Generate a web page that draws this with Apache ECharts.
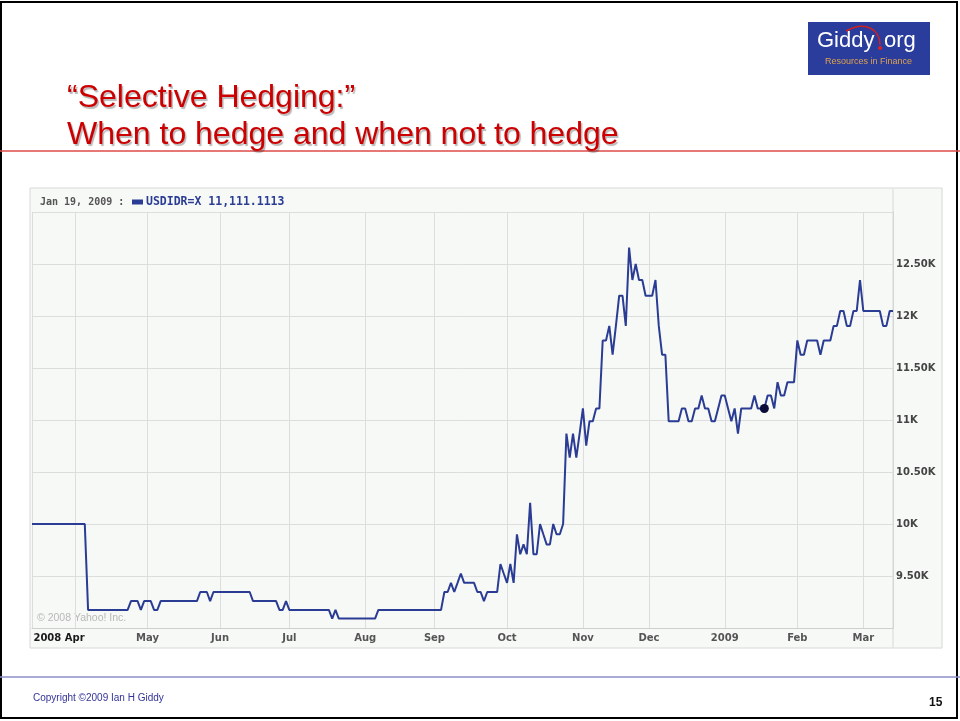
<!DOCTYPE html>
<html>
<head>
<meta charset="utf-8">
<script src="https://cdn.jsdelivr.net/npm/echarts@6/dist/echarts.min.js"></script>
<style>
html,body{margin:0;padding:0;background:#fff;}
#chart{width:960px;height:721px;}
</style>
</head>
<body>
<div id="chart"></div>
<script>
// ---------- data ----------
const slideTitle = '\u201cSelective Hedging:\u201d\nWhen to hedge and when not to hedge';
const seriesName = 'USDIDR=X';
const startDate = [2008, 2, 13];   // 2008-03-13 (weekdays only)
const endDate = [2009, 2, 13];     // 2009-03-13
const highlightDate = '2009-01-19';
const highlightValue = 11111.1113;
const highlightLabel = 'Jan 19, 2009 :';
const highlightValueText = '11,111.1113';
const monthLabels = ['2008 Apr','May','Jun','Jul','Aug','Sep','Oct','Nov','Dec','2009','Feb','Mar'];
const yTickLabels = {9500:'9.50K',10000:'10K',10500:'10.50K',11000:'11K',11500:'11.50K',12000:'12K',12500:'12.50K'};
const rateValues = [
10000,10000,10000,10000,10000,10000,10000,10000,10000,10000,
10000,10000,10000,10000,10000,10000,10000,9174,9174,9174,
9174,9174,9174,9174,9174,9174,9174,9174,9174,9174,
9259,9259,9259,9174,9259,9259,9259,9174,9174,9259,
9259,9259,9259,9259,9259,9259,9259,9259,9259,9259,
9259,9346,9346,9346,9259,9346,9346,9346,9346,9346,
9346,9346,9346,9346,9346,9346,9346,9259,9259,9259,
9259,9259,9259,9259,9259,9174,9174,9259,9174,9174,
9174,9174,9174,9174,9174,9174,9174,9174,9174,9174,
9174,9091,9174,9091,9091,9091,9091,9091,9091,9091,
9091,9091,9091,9091,9091,9174,9174,9174,9174,9174,
9174,9174,9174,9174,9174,9174,9174,9174,9174,9174,
9174,9174,9174,9174,9174,9346,9346,9434,9346,9434,
9524,9434,9434,9434,9434,9346,9346,9259,9346,9346,
9346,9346,9615,9524,9434,9615,9434,9901,9709,9804,
9709,10204,9709,9709,10000,9901,9804,9804,10000,9901,
9901,10000,10870,10638,10870,10638,10870,11111,10753,10989,
10989,11111,11111,11765,11765,11905,11628,11905,12195,12195,
11905,12658,12346,12500,12346,12346,12195,12195,12195,12346,
11905,11628,11628,10989,10989,10989,10989,11111,11111,10989,
10989,11111,11111,11236,11111,11111,10989,10989,11111,11236,
11236,11111,10989,11111,10870,11111,11111,11111,11111,11236,
11111,11111,11111,11236,11236,11111,11364,11236,11236,11364,
11364,11364,11765,11628,11628,11765,11765,11765,11765,11628,
11765,11765,11765,11905,11905,12048,12048,11905,11905,12048,
12048,12346,12048,12048,12048,12048,12048,12048,11905,11905,
12048,12048
];

// ---------- categories (trading weekdays) ----------
const categories = [];
for (let t = Date.UTC(startDate[0], startDate[1], startDate[2]); t <= Date.UTC(endDate[0], endDate[1], endDate[2]); t += 86400000) {
  const d = new Date(t);
  const w = d.getUTCDay();
  if (w !== 0 && w !== 6) categories.push(d.toISOString().slice(0, 10));
}
const monthStarts = [];
for (let i = 1; i < categories.length; i++) {
  if (categories[i].slice(5, 7) !== categories[i - 1].slice(5, 7)) monthStarts.push(i);
}
const labelAt = {};
labelAt[0] = monthLabels[0];
for (let k = 1; k < monthStarts.length && k < monthLabels.length; k++) labelAt[monthStarts[k]] = monthLabels[k];
const gridIdx = new Set([0].concat(monthStarts));

const AX = 'DejaVu Sans';
const chart = echarts.init(document.getElementById('chart'), null, {renderer: 'canvas'});
chart.setOption({
  animation: false,
  backgroundColor: '#ffffff',
  title: {
    text: slideTitle,
    left: 67, top: 80, padding: 0,
    textStyle: {
      fontFamily: 'Liberation Sans', fontSize: 32, fontWeight: 'normal', color: '#cc0000',
      lineHeight: 37, textShadowColor: 'rgba(0,0,0,0.28)', textShadowOffsetX: 1.5, textShadowOffsetY: 1.5, textShadowBlur: 1
    }
  },
  legend: {
    left: 132, top: 196, padding: 0,
    icon: 'rect', itemWidth: 11, itemHeight: 5,
    data: [seriesName],
    selectedMode: false,
    formatter: function (n) { return n + ' ' + highlightValueText; },
    textStyle: {fontFamily: 'DejaVu Sans Mono', fontWeight: 'bold', fontSize: 11.5, color: '#2b3c94', padding: [0, 0, 0, -2]}
  },
  grid: {left: 32, top: 212, width: 861, height: 416, containLabel: false},
  xAxis: {
    type: 'category',
    data: categories,
    boundaryGap: false,
    axisLine: {show: true, lineStyle: {color: '#cfcfcf', width: 1}},
    axisTick: {show: false},
    splitLine: {show: true, interval: function (i) { return gridIdx.has(i); }, lineStyle: {color: '#dddddd', width: 1}},
    axisLabel: {
      interval: function (i) { return labelAt[i] !== undefined; },
      margin: 5,
      fontFamily: AX, fontWeight: 'bold', fontSize: 10, color: '#555555',
      formatter: function (v, i) {
        if (i === 0) return '{first|' + labelAt[0] + '}';
        return labelAt[i] !== undefined ? labelAt[i] : '';
      },
      rich: {first: {fontFamily: AX, fontWeight: 'bold', fontSize: 10, color: '#1a1a1a', padding: [0, 0, 0, 54]}}
    }
  },
  yAxis: {
    type: 'value',
    position: 'right',
    min: 9000, max: 13000, interval: 500,
    axisLine: {show: true, lineStyle: {color: '#d5d5d5'}},
    axisTick: {show: false},
    splitLine: {show: true, lineStyle: {color: '#dddddd', width: 1}},
    axisLabel: {
      margin: 3, showMinLabel: false, showMaxLabel: false,
      fontFamily: AX, fontWeight: 'bold', fontSize: 10, color: '#444444',
      formatter: function (v) { return yTickLabels[v] || ''; }
    }
  },
  series: [{
    name: seriesName,
    type: 'line',
    data: rateValues,
    showSymbol: false,
    symbol: 'none',
    lineStyle: {color: '#2b3c94', width: 2},
    itemStyle: {color: '#2b3c94'},
    z: 3,
    markPoint: {
      symbol: 'circle', symbolSize: 9,
      itemStyle: {color: '#0c0c3a'},
      label: {show: false},
      data: [{coord: [highlightDate, highlightValue]}]
    }
  }],
  graphic: [
    // slide frame
    {type: 'rect', z: -20, shape: {x: 1, y: 2, width: 956, height: 716}, style: {fill: '#ffffff', stroke: '#000000', lineWidth: 2}},
    // red header rule
    {type: 'line', z: -5, shape: {x1: 0, y1: 151, x2: 960, y2: 151}, style: {stroke: '#dd4a4a', lineWidth: 1.5}},
    // footer rule
    {type: 'line', z: -5, shape: {x1: 0, y1: 677, x2: 960, y2: 677}, style: {stroke: '#8e8ec8', lineWidth: 1.5}},
    {type: 'text', left: 33, top: 693, style: {text: 'Copyright \u00a92009 Ian H Giddy', fontFamily: 'Liberation Sans', fontSize: 10, fill: '#333399'}},
    {type: 'text', left: 929, top: 697, style: {text: '15', fontFamily: 'Liberation Sans', fontWeight: 'bold', fontSize: 12, fill: '#111111'}},
    // logo
    {type: 'rect', z: 5, shape: {x: 808, y: 22, width: 122, height: 53}, style: {fill: '#2b3d9c'}},
    {type: 'text', z: 6, left: 817, top: 30, style: {text: 'Giddy', fontFamily: 'Liberation Sans', fontSize: 22, fill: '#ffffff'}},
    {type: 'text', z: 6, left: 884, top: 30, style: {text: 'org', fontFamily: 'Liberation Sans', fontSize: 22, fill: '#ffffff'}},
    {type: 'circle', z: 6, shape: {cx: 880, cy: 48, r: 2}, style: {fill: '#dd2222'}},
    {type: 'bezierCurve', z: 6, shape: {x1: 846, y1: 31, cpx1: 866, cpy1: 20, x2: 880, y2: 45, cpx2: 880, cpy2: 30}, style: {stroke: '#cc2222', lineWidth: 1.5, fill: null}},
    {type: 'text', z: 6, left: 825, top: 57, style: {text: 'Resources in Finance', fontFamily: 'Liberation Sans', fontSize: 9, fill: '#e0a24a'}},
    // chart panel
    {type: 'rect', z: -10, shape: {x: 30, y: 188, width: 912, height: 460}, style: {fill: '#f6f9f6', stroke: '#d8d8d8', lineWidth: 1}},
    {type: 'line', z: -9, shape: {x1: 893, y1: 189, x2: 893, y2: 648}, style: {stroke: '#d8d8d8', lineWidth: 1}},
    {type: 'text', left: 40, top: 197, style: {text: highlightLabel, fontFamily: 'DejaVu Sans Mono', fontWeight: 'bold', fontSize: 10, fill: '#555555'}},
    {type: 'text', left: 37, top: 613, style: {text: '\u00a9 2008 Yahoo! Inc.', fontFamily: 'Liberation Sans', fontSize: 10.5, fill: '#b8b8b8'}}
  ]
});
</script>
</body>
</html>
